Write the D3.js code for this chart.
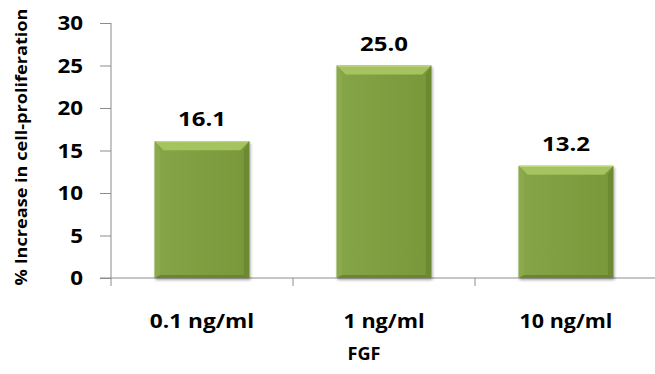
<!DOCTYPE html>
<html>
<head>
<meta charset="utf-8">
<script src="https://cdn.jsdelivr.net/npm/d3@7"></script>
<style>
  html, body { margin: 0; padding: 0; background: #fff; }
  svg { display: block; }
  text { font-family: "Open Sans", "Lato", sans-serif; font-weight: bold; fill: #000; }
</style>
</head>
<body>
<svg id="chart" width="655" height="374"></svg>
<script>
// FGF concentration vs. % increase in cell proliferation
const categories = ["0.1 ng/ml", "1 ng/ml", "10 ng/ml"];
const values = [16.1, 25.0, 13.2];
const valueLabels = ["16.1", "25.0", "13.2"];
const yTicks = [0, 5, 10, 15, 20, 25, 30];
const xTitle = "FGF";
const yTitle = "% Increase in cell-proliferation";

const svg = d3.select("#chart");
const plotLeft = 111, plotRight = 657, plotTop = 23, plotBottom = 278;

const x = d3.scaleBand().domain(categories).range([plotLeft, plotRight]).paddingInner(0.48).paddingOuter(0.24);
const y = d3.scaleLinear().domain([0, 30]).range([plotBottom, plotTop]);

// wide, heavy label face: stretch each string to a width proportional to its length
const widen = (sel, perChar, extra = 0) =>
  sel.attr("textLength", function() { return this.textContent.length * perChar + extra; })
     .attr("lengthAdjust", "spacingAndGlyphs");

const defs = svg.append("defs");
const g = defs.append("linearGradient").attr("id", "barFill").attr("x1", 0).attr("x2", 1).attr("y1", 0).attr("y2", 0);
g.append("stop").attr("offset", "0%").attr("stop-color", "#86a548");
g.append("stop").attr("offset", "50%").attr("stop-color", "#7f9e41");
g.append("stop").attr("offset", "100%").attr("stop-color", "#799839");
const f = defs.append("filter").attr("id", "shadow").attr("x", "-10%").attr("y", "-10%").attr("width", "130%").attr("height", "130%");
f.append("feGaussianBlur").attr("in", "SourceAlpha").attr("stdDeviation", 1.5);
f.append("feOffset").attr("dx", 1).attr("dy", 2).attr("result", "b");
f.append("feComponentTransfer").append("feFuncA").attr("type", "linear").attr("slope", 0.35);
const fm = f.append("feMerge");
fm.append("feMergeNode");
fm.append("feMergeNode").attr("in", "SourceGraphic");

// y axis
const yAxis = d3.axisLeft(y).tickValues(yTicks).tickSize(11).tickPadding(17);
const ya = svg.append("g").attr("transform", `translate(${plotLeft},0)`).call(yAxis);
ya.select(".domain").attr("stroke", "#8c8c8c").attr("d", `M0,${plotTop}V${plotBottom}`);
ya.selectAll(".tick line").attr("stroke", "#8c8c8c");
ya.selectAll(".tick text").attr("font-size", 19).attr("font-family", "'Open Sans', sans-serif")
  .attr("font-weight", "bold").attr("fill", "#000").attr("dy", "0.36em");
widen(ya.selectAll(".tick text"), 12.8);

// x axis baseline with category dividers
const xa = svg.append("g");
xa.append("line").attr("x1", plotLeft - 11).attr("x2", plotRight).attr("y1", plotBottom).attr("y2", plotBottom).attr("stroke", "#8c8c8c");
const bounds = categories.map((c, i) => plotLeft + i * x.step());
xa.selectAll("line.div").data(bounds).join("line").attr("class", "div")
  .attr("x1", d => d).attr("x2", d => d).attr("y1", plotBottom).attr("y2", plotBottom + 8).attr("stroke", "#8c8c8c");

// bars with bevelled edges
const bars = svg.append("g").selectAll("g.bar").data(values).join("g").attr("class", "bar").attr("filter", "url(#shadow)");
const bev = 9;
bars.each(function(v, i) {
  const sel = d3.select(this);
  const x0 = x(categories[i]), w = x.bandwidth(), y0 = y(v), h = y(0) - y(v);
  const x1 = x0 + w, y1 = y0 + h;
  sel.append("rect").attr("x", x0).attr("y", y0).attr("width", w).attr("height", h).attr("fill", "url(#barFill)");
  sel.append("polygon").attr("points", [[x0, y0], [x1, y0], [x1 - bev, y0 + bev], [x0 + bev, y0 + bev]].join(" ")).attr("fill", "#a5c35f");
  sel.append("polygon").attr("points", [[x0, y0], [x0 + bev * 0.6, y0 + bev], [x0 + bev * 0.6, y1 - 3], [x0, y1]].join(" ")).attr("fill", "#8aaa4b");
  sel.append("polygon").attr("points", [[x1, y0], [x1 - bev * 0.6, y0 + bev], [x1 - bev * 0.6, y1 - 3], [x1, y1]].join(" ")).attr("fill", "#6c8a30");
  sel.append("polygon").attr("points", [[x0, y1], [x0 + bev * 0.6, y1 - 3], [x1 - bev * 0.6, y1 - 3], [x1, y1]].join(" ")).attr("fill", "#6a872f");
  sel.append("line").attr("x1", x0 + 1).attr("x2", x1 - 1).attr("y1", y0 + 0.5).attr("y2", y0 + 0.5).attr("stroke", "#c3dc84").attr("stroke-width", 1);
});

// value labels
const vl = svg.append("g").selectAll("text").data(values).join("text")
  .attr("x", (d, i) => x(categories[i]) + x.bandwidth() / 2)
  .attr("y", d => y(d) - 15)
  .attr("text-anchor", "middle").attr("font-size", 19)
  .text((d, i) => valueLabels[i]);
widen(vl, 12);

// category labels
const cl = svg.append("g").selectAll("text").data(categories).join("text")
  .attr("x", d => x(d) + x.bandwidth() / 2)
  .attr("y", 328)
  .attr("text-anchor", "middle").attr("font-size", 20)
  .text(d => d);
widen(cl, 11.6);

// axis titles
const xt = svg.append("text").attr("x", 364).attr("y", 360).attr("text-anchor", "middle").attr("font-size", 18).text(xTitle);
widen(xt, 11);
const yt = svg.append("text").attr("transform", "translate(27,147) rotate(-90)").attr("text-anchor", "middle").attr("font-size", 16).text(yTitle);
widen(yt, 8.65);
</script>
</body>
</html>
